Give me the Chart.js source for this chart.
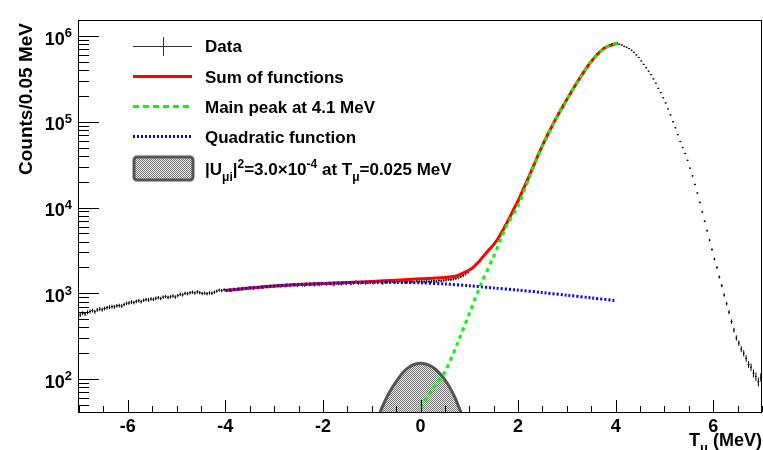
<!DOCTYPE html>
<html>
<head>
<meta charset="utf-8">
<script src="https://cdn.jsdelivr.net/npm/chart.js@4.4.0/dist/chart.umd.min.js"></script>
<style>
  body { margin: 0; background: #fff; }
</style>
</head>
<body>
<canvas id="graph" width="763" height="450"></canvas>
<script>
// histogram: 0.05 MeV bins from -7 to 7
const binWidth = 0.05;
const xStart = -7;
const dataCounts = [
  560, 585, 575, 600, 615, 630, 610, 640, 655, 645, 665, 680, 690, 700, 695, 715, 720, 710, 740, 765,
  770, 790, 780, 805, 820, 800, 830, 845, 835, 860, 850, 875, 890, 870, 905, 915, 895, 910, 930, 905,
  940, 975, 960, 1000, 990, 1015, 1030, 1010, 1040, 1020, 995, 1005, 990, 1010, 1000, 1030, 1060, 1090, 1075, 1100,
  1080, 1100, 1090, 1115, 1105, 1130, 1120, 1145, 1135, 1150, 1160, 1140, 1170, 1165, 1180, 1175, 1195, 1185, 1205, 1200,
  1215, 1230, 1210, 1240, 1225, 1250, 1235, 1260, 1245, 1230, 1265, 1255, 1240, 1275, 1260, 1270, 1250, 1285, 1265, 1280,
  1290, 1275, 1300, 1285, 1260, 1310, 1295, 1280, 1315, 1300, 1330, 1290, 1320, 1365, 1305, 1325, 1340, 1310, 1330, 1345,
  1320, 1350, 1335, 1370, 1310, 1345, 1360, 1340, 1375, 1330, 1355, 1385, 1340, 1365, 1350, 1380, 1360, 1345, 1390, 1370,
  1375, 1360, 1390, 1370, 1385, 1400, 1380, 1410, 1395, 1420, 1430, 1450, 1440, 1470, 1490, 1520, 1560, 1610, 1680, 1760,
  1900, 1980, 2100, 2250, 2420, 2620, 2850, 3050, 3300, 3560, 3850, 4200, 4650, 5250, 5950, 6750, 7600, 8700, 9900, 11500,
  12600, 14450, 17400, 19950, 23400, 27500, 32400, 37150, 42650, 49000, 56200, 64600, 74100, 85100, 95500, 109600, 125900, 141300, 158500, 177800,
  190500, 208900, 234400, 263000, 295100, 331100, 363100, 407400, 446700, 489800, 524800, 575400, 616600, 660700, 699800, 732800, 767400, 794300, 812800, 822400,
  822400, 803500, 785200, 758600, 741300, 716100, 683900, 645700, 602600, 562300, 512900, 467700, 426600, 389000, 354800, 316200, 281800, 245500, 218800, 190500,
  166000, 141300, 120200, 100000, 85100, 70800, 58900, 50100, 42700, 35500, 28800, 23400, 18600, 14800, 11500, 8910, 6920, 5370, 4170, 3240,
  2510, 2000, 1550, 1230, 955, 759, 603, 468, 372, 302, 263, 224, 200, 174, 148, 138, 117, 107, 93, 105
];

// sum of functions
const sumX = [-4, -3.5, -3, -2.5, -2, -1.5, -1, -0.5, 0, 0.25, 0.5, 0.75, 0.9, 1.0, 1.1, 1.2, 1.3, 1.4, 1.5, 1.6, 1.7, 1.8, 1.9, 2.0, 2.25, 2.5, 2.75, 3.0, 3.25, 3.5, 3.75, 4.0, 4.05];
const sumY = [1080, 1150, 1215, 1265, 1300, 1335, 1375, 1420, 1480, 1500, 1525, 1600, 1750, 1870, 2050, 2350, 2750, 3190, 3700, 4450, 5600, 7100, 9300, 12000, 25000, 53000, 102000, 182000, 313000, 505000, 712000, 815000, 822000];

// main peak
const peakX = [0, 0.25, 0.5, 0.75, 1.0, 1.25, 1.5, 1.75, 2.0, 2.25, 2.5, 2.75, 3.0, 3.25, 3.5, 3.75, 4.0, 4.05];
const peakY = [46, 76, 121, 255, 580, 1330, 2690, 5900, 10500, 24000, 52000, 101000, 181000, 312000, 505000, 712000, 815000, 822000];

// quadratic function
const quadX = [-4, -3.5, -3, -2.5, -2, -1.5, -1, -0.5, 0, 0.5, 1, 1.5, 2, 2.5, 3, 3.5, 4];
const quadY = [1075, 1150, 1215, 1265, 1300, 1330, 1345, 1340, 1325, 1285, 1225, 1155, 1090, 1020, 950, 885, 820];

// signal for |U|^2 = 3.0e-4
const signalX = [-0.85, -0.8, -0.7, -0.6, -0.5, -0.4, -0.3, -0.2, -0.1, 0, 0.1, 0.2, 0.3, 0.4, 0.5, 0.6, 0.7, 0.8, 0.85];
const signalY = [38, 45, 60, 76, 93, 112, 129, 142, 150, 153, 150, 143, 131, 115, 98, 80, 62, 45, 38];

const xMajor = [-6, -4, -2, 0, 2, 4, 6];
const yDecades = [2, 3, 4, 5, 6];

const FONT = '"Liberation Sans", Arial, Helvetica, sans-serif';

const graph = document.getElementById('graph').getContext('2d');

// checkered fill like ROOT fill style
const pc = document.createElement('canvas');
pc.width = 2; pc.height = 2;
const pctx = pc.getContext('2d');
pctx.fillStyle = '#e6e6e6';
pctx.fillRect(0, 0, 2, 2);
pctx.fillStyle = '#7a7a7a';
pctx.fillRect(0, 0, 1, 1);
pctx.fillRect(1, 1, 1, 1);
const hatch = graph.createPattern(pc, 'repeat');

function pts(xs, ys) {
    return xs.map((x, i) => ({ x: x, y: ys[i] }));
}

// text with sub/superscripts: segments [text, kind]
function richWidth(ctx, segs, size) {
    let w = 0;
    segs.forEach(s => {
        ctx.font = 'bold ' + (s[1] ? Math.round(size * 0.7) : size) + 'px ' + FONT;
        w += ctx.measureText(s[0]).width;
    });
    return w;
}
function drawRich(ctx, segs, x, y, size) {
    segs.forEach(s => {
        const small = Math.round(size * 0.7);
        ctx.font = 'bold ' + (s[1] ? small : size) + 'px ' + FONT;
        let dy = 0;
        if (s[1] === 'sub') dy = size * 0.35;
        if (s[1] === 'sup') dy = -size * 0.4;
        ctx.fillText(s[0], x, y + dy);
        x += ctx.measureText(s[0]).width;
    });
}

const errorBars = {
    id: 'errorBars',
    beforeDatasetsDraw(chart) {
        const { ctx, chartArea } = chart;
        const x = chart.scales.x, y = chart.scales.y;
        ctx.save();
        ctx.beginPath();
        ctx.rect(chartArea.left, chartArea.top, chartArea.right - chartArea.left, chartArea.bottom - chartArea.top);
        ctx.clip();
        ctx.strokeStyle = '#000';
        ctx.lineWidth = 1;
        ctx.beginPath();
        dataCounts.forEach((c, i) => {
            const xc = xStart + binWidth * (i + 0.5);
            const px = x.getPixelForValue(xc);
            const py = y.getPixelForValue(c);
            const e = Math.sqrt(c);
            ctx.moveTo(x.getPixelForValue(xc - binWidth * 0.4), py);
            ctx.lineTo(x.getPixelForValue(xc + binWidth * 0.4), py);
            ctx.moveTo(px, y.getPixelForValue(c + e) - 0.5);
            ctx.lineTo(px, y.getPixelForValue(c - e) + 0.5);
        });
        ctx.stroke();
        ctx.restore();
    }
};

const frame = {
    id: 'frame',
    afterDraw(chart) {
        const { ctx, chartArea } = chart;
        const x = chart.scales.x, y = chart.scales.y;
        const L = chartArea.left, R = chartArea.right, T = chartArea.top, B = chartArea.bottom;
        ctx.save();
        ctx.strokeStyle = '#000';
        ctx.lineWidth = 1;
        ctx.strokeRect(Math.round(L) - 0.5, Math.round(T) + 0.5, Math.round(R - L), Math.round(B - T));

        // x ticks (inside)
        ctx.beginPath();
        for (let v = -7; v <= 7.001; v += 0.5) {
            const px = Math.round(x.getPixelForValue(v)) + 0.5;
            const len = Math.abs(v % 2) < 0.001 ? 12 : 6;
            ctx.moveTo(px, B);
            ctx.lineTo(px, B - len);
        }
        // y ticks (inside)
        for (let d = 1; d <= 6; d++) {
            for (let m = 1; m <= 9; m++) {
                const v = m * Math.pow(10, d);
                if (v < y.min || v > y.max) continue;
                const py = Math.round(y.getPixelForValue(v)) + 0.5;
                ctx.moveTo(L, py);
                ctx.lineTo(L + (m === 1 ? 20 : 10), py);
            }
        }
        ctx.stroke();

        ctx.fillStyle = '#000';
        // x tick labels
        ctx.font = 'bold 18px ' + FONT;
        ctx.textAlign = 'center';
        ctx.textBaseline = 'alphabetic';
        xMajor.forEach(v => {
            ctx.fillText(String(v), x.getPixelForValue(v), 432);
        });
        // y tick labels 10^n
        ctx.textAlign = 'left';
        yDecades.forEach(d => {
            const py = y.getPixelForValue(Math.pow(10, d));
            const segs = [['10', ''], [String(d), 'sup']];
            const w = richWidth(ctx, segs, 18);
            drawRich(ctx, segs, 72 - w, py + 8.5, 18);
        });

        // axis titles
        const xt = [['T', ''], ['\u03bc', 'sub'], [' (MeV)', '']];
        drawRich(ctx, xt, R - richWidth(ctx, xt, 18), 446, 18);
        ctx.save();
        ctx.translate(32, 23);
        ctx.rotate(-Math.PI / 2);
        ctx.textAlign = 'right';
        ctx.font = 'bold 19px ' + FONT;
        ctx.fillText('Counts/0.05 MeV', 0, 0);
        ctx.restore();

        // legend
        const sx0 = 133, sx1 = 192, tx = 205;
        const rows = [46, 76.5, 106.5, 136.5, 168];
        ctx.lineCap = 'butt';
        ctx.strokeStyle = '#333';
        ctx.lineWidth = 1;
        ctx.beginPath();
        ctx.moveTo(sx0, rows[0] + 0.5); ctx.lineTo(sx1, rows[0] + 0.5);
        ctx.moveTo(163.5, rows[0] - 9); ctx.lineTo(163.5, rows[0] + 10);
        ctx.stroke();

        ctx.lineWidth = 3;
        ctx.strokeStyle = '#ff0000';
        ctx.beginPath(); ctx.moveTo(sx0, rows[1]); ctx.lineTo(sx1, rows[1]); ctx.stroke();
        ctx.strokeStyle = '#00ff00';
        ctx.setLineDash([6, 4]);
        ctx.beginPath(); ctx.moveTo(sx0, rows[2]); ctx.lineTo(sx1, rows[2]); ctx.stroke();
        ctx.strokeStyle = '#0000ff';
        ctx.setLineDash([2, 2]);
        ctx.beginPath(); ctx.moveTo(sx0, rows[3]); ctx.lineTo(sx1, rows[3]); ctx.stroke();
        ctx.setLineDash([]);
        ctx.fillStyle = hatch;
        ctx.strokeStyle = '#555';
        ctx.beginPath();
        ctx.roundRect(sx0 + 1, rows[4] - 11, 59, 23, 3);
        ctx.fill();
        ctx.stroke();

        ctx.fillStyle = '#000';
        ctx.textAlign = 'left';
        ctx.font = 'bold 17px ' + FONT;
        ['Data', 'Sum of functions', 'Main peak at 4.1 MeV', 'Quadratic function'].forEach((t, i) => {
            ctx.fillText(t, tx, rows[i] + 6);
        });
        drawRich(ctx, [['|U', ''], ['\u03bci', 'sub'], ['|', ''], ['2', 'sup'], ['=3.0\u00d710', ''], ['-4', 'sup'],
            [' at T', ''], ['\u03bc', 'sub'], ['=0.025 MeV', '']], tx, rows[4] + 7, 17);
        ctx.restore();
    }
};

let myChart = new Chart(graph, {
    type: 'scatter',
    data: {
        datasets: [
            {
                label: 'Main peak at 4.1 MeV',
                data: pts(peakX, peakY),
                showLine: true,
                borderColor: '#00ff00',
                borderWidth: 3,
                borderDash: [4, 4],
                pointRadius: 0,
                tension: 0.3,
                clip: 0,
                order: 0
            },
            {
                label: 'Quadratic function',
                data: pts(quadX, quadY),
                showLine: true,
                borderColor: '#0000ff',
                borderWidth: 3,
                borderDash: [2, 2],
                pointRadius: 0,
                tension: 0.3,
                clip: 0,
                order: 1
            },
            {
                label: 'Sum of functions',
                data: pts(sumX, sumY),
                showLine: true,
                borderColor: '#ff0000',
                borderWidth: 3,
                pointRadius: 0,
                tension: 0.3,
                clip: 0,
                order: 2
            },
            {
                label: 'signal',
                data: pts(signalX, signalY),
                showLine: true,
                borderColor: '#555555',
                borderWidth: 3,
                backgroundColor: hatch,
                fill: 'start',
                pointRadius: 0,
                tension: 0.4,
                clip: 0,
                order: 3
            },
            {
                label: 'Data',
                data: dataCounts.map((c, i) => ({ x: xStart + binWidth * (i + 0.5), y: c })),
                pointRadius: 0,
                order: 4
            }
        ]
    },
    options: {
        responsive: false,
        animation: false,
        devicePixelRatio: 1,
        layout: {
            padding: { left: 79, right: 1, top: 20, bottom: 38 }
        },
        scales: {
            x: { type: 'linear', min: -7, max: 7, display: false },
            y: { type: 'logarithmic', min: 41.3, max: 1.538e6, display: false }
        },
        plugins: {
            legend: { display: false },
            tooltip: { enabled: false }
        }
    },
    plugins: [errorBars, frame]
});
</script>
</body>
</html>
